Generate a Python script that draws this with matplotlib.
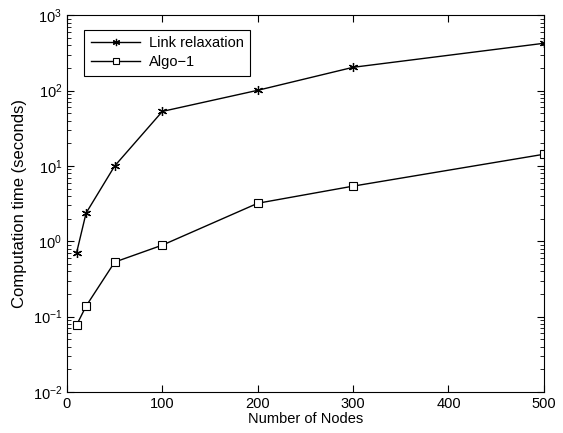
import matplotlib
matplotlib.use("Agg")
import matplotlib.pyplot as plt
from matplotlib.ticker import LogLocator, NullFormatter

nodes = [10, 20, 50, 100, 200, 300, 500]
link_relaxation = [0.70, 2.37, 10.0, 53.0, 101.0, 204.0, 425.0]
algo1 = [0.077, 0.138, 0.53, 0.89, 3.2, 5.4, 14.3]

plt.rcParams['font.family'] = ['Liberation Sans', 'DejaVu Sans']
plt.rcParams['mathtext.fontset'] = 'custom'
plt.rcParams['mathtext.rm'] = 'Liberation Sans'

fig = plt.figure(figsize=(5.63, 4.33), dpi=100)
ax = fig.add_axes([0.119, 0.0947, 0.847, 0.870])

ax.plot(nodes, link_relaxation, color='black', lw=1, marker=(6, 2, 0), ms=6.5,
        mew=0.9, label='Link relaxation')
ax.plot(nodes, algo1, color='black', lw=1, marker='s', ms=5.5, mfc='white',
        mew=0.8, label='Algo\u22121')

ax.set_yscale('log')
ax.set_xlim(0, 500)
ax.set_ylim(1e-2, 1e3)
ax.set_xticks([0, 100, 200, 300, 400, 500])
ax.yaxis.set_major_locator(LogLocator(base=10, numticks=10))
ax.yaxis.set_minor_locator(LogLocator(base=10, subs=range(2, 10), numticks=20))
ax.yaxis.set_minor_formatter(NullFormatter())
ax.tick_params(direction='in', which='both', top=True, right=True, labelsize=10.5)
ax.tick_params(which='major', length=5)
ax.tick_params(which='minor', length=3)
for s in ax.spines.values():
    s.set_linewidth(0.8)

ax.set_xlabel('Number of Nodes', fontsize=10.5, labelpad=1)
ax.set_ylabel('Computation time (seconds)', fontsize=12, labelpad=4)

leg = ax.legend(loc='upper left', bbox_to_anchor=(0.036, 0.962), fontsize=10.5,
                borderaxespad=0, fancybox=False, edgecolor='black', framealpha=1,
                handlelength=3.4, handletextpad=0.6, borderpad=0.45,
                labelspacing=0.35, markerscale=0.8)
leg.get_frame().set_linewidth(0.8)

fig.savefig('out.png', dpi=100)
